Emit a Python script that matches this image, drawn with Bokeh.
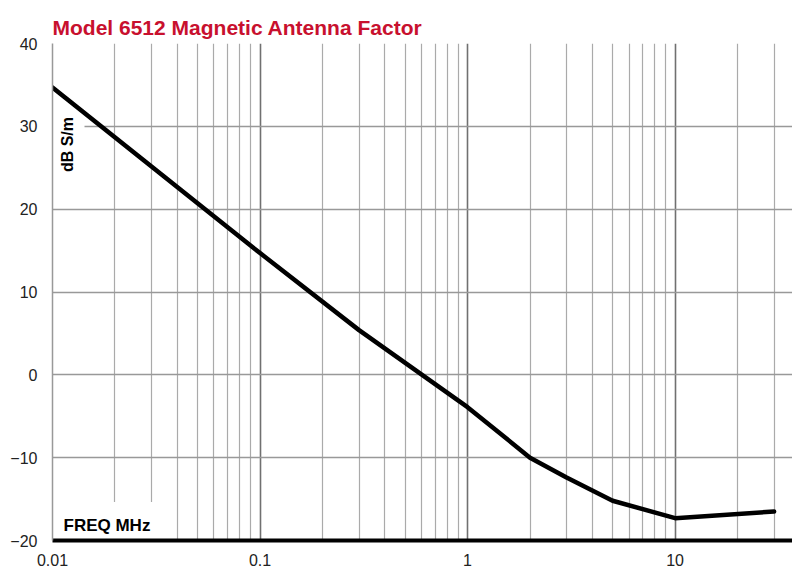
import math
from bokeh.plotting import figure
from bokeh.models import FixedTicker, Label, Range1d
from bokeh.embed import file_html
from bokeh.resources import INLINE

# ---- data ----
freq_mhz = [0.01, 0.1, 0.3, 1, 2, 3, 5, 10, 30]
antenna_factor_db = [34.7, 14.7, 5.4, -3.9, -10.0, -12.4, -15.2, -17.3, -16.5]

x_major_ticks = [0.01, 0.1, 1, 10]
x_tick_labels = {0.01: "0.01", 0.1: "0.1", 1: "1", 10: "10"}
x_minor_ticks = [m * d for d in (0.01, 0.1, 1) for m in range(2, 10)] + [20, 30]
y_ticks = [-20, -10, 0, 10, 20, 30, 40]

title_text = "Model 6512 Magnetic Antenna Factor"
y_label_text = "dB S/m"
x_label_text = "FREQ MHz"

SANS = "Liberation Sans"

p = figure(
    width=792, height=568,
    x_axis_type="log",
    x_range=Range1d(0.01, 36.8), y_range=Range1d(-20, 40),
    output_backend="svg", toolbar_location=None,
    min_border_left=52, min_border_right=0,
    min_border_top=43, min_border_bottom=26,
)
p.background_fill_color = "white"
p.border_fill_color = "white"
p.outline_line_color = None

# title
p.title.text = title_text
p.title.text_font = SANS
p.title.text_font_style = "bold"
p.title.text_font_size = "21px"
p.title.text_color = "#c8102e"
p.title.align = "left"
p.title.standoff = 9

# x axis
xticker = FixedTicker(ticks=x_major_ticks, minor_ticks=x_minor_ticks)
p.xaxis.ticker = xticker
p.xaxis.major_label_overrides = dict(x_tick_labels)
p.xaxis.axis_line_color = "black"
p.xaxis.axis_line_width = 4
p.xaxis.major_tick_line_color = None
p.xaxis.minor_tick_line_color = None
p.xaxis.major_label_standoff = 7
p.xaxis.major_label_text_font = SANS
p.xaxis.major_label_text_font_size = "16px"
p.xaxis.major_label_text_color = "#222222"

# y axis
p.yaxis.ticker = FixedTicker(ticks=y_ticks)
p.yaxis.axis_line_color = "#999999"
p.yaxis.axis_line_width = 1.5
p.yaxis.major_tick_line_color = None
p.yaxis.minor_tick_line_color = None
p.yaxis.major_label_standoff = 9
p.yaxis.major_label_text_font = SANS
p.yaxis.major_label_text_font_size = "16px"
p.yaxis.major_label_text_color = "#222222"

# grids
p.xgrid.ticker = xticker
p.xgrid.grid_line_color = "#707070"
p.xgrid.grid_line_width = 1.6
p.xgrid.minor_grid_line_color = "#aaaaaa"
p.xgrid.minor_grid_line_width = 1.2
p.ygrid.grid_line_color = "#999999"
p.ygrid.grid_line_width = 1.4

# curve
p.line(freq_mhz, antenna_factor_db, line_color="black", line_width=4.5,
       line_join="round", line_cap="round")

# axis captions inside the plot with white boxes (under the curve)
p.add_layout(Label(
    x=0.01, y=27.8, x_offset=15, text=y_label_text, angle=math.pi / 2,
    text_align="center", text_baseline="middle",
    text_font=SANS, text_font_style="bold", text_font_size="16px",
    text_color="black", level="underlay",
    background_fill_color="white", padding=(4, 4, 8, 9),
))
p.add_layout(Label(
    x=0.01, y=-17.84, x_offset=1, text=x_label_text,
    text_align="left", text_baseline="middle",
    text_font=SANS, text_font_style="bold", text_font_size="17px",
    text_color="black", level="underlay",
    background_fill_color="white", padding=(10, 10, 14, 8),
))

open("out.html", "w").write(file_html(p, INLINE))
